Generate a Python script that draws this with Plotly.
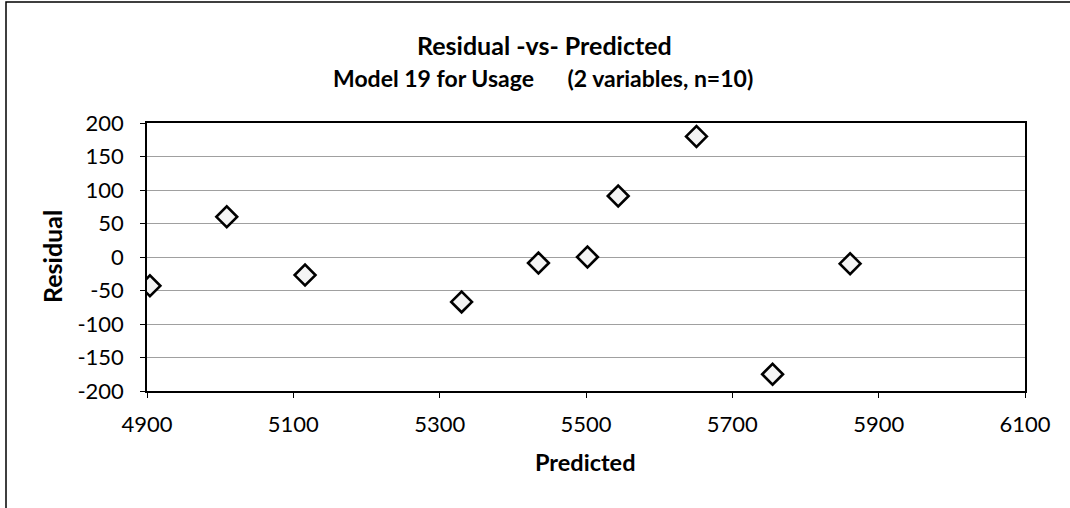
import plotly.graph_objects as go

# Data
predicted = [4904, 5009, 5116, 5330, 5435, 5502, 5544, 5651, 5755, 5861]
residual = [-43, 60, -27, -67, -9, 0, 91, 180, -175, -10]

x_ticks = [4900, 5100, 5300, 5500, 5700, 5900, 6100]
y_ticks = [-200, -150, -100, -50, 0, 50, 100, 150, 200]
y_tick_labels = [str(v) for v in y_ticks]

title_text = "Residual -vs- Predicted"
subtitle_text = "Model 19 for Usage" + "&nbsp;" * 6 + "(2 variables, n=10)"
x_title = "Predicted"
y_title = "Residual"

FONT = "Lato, Carlito, Calibri, sans-serif"

W, H = 1070, 508
L, R, T, B = 147, 45, 123, 117
pw, ph = W - L - R, H - T - B


def px(xp):
    return (xp - L) / pw


def py(yp):
    return (H - B - yp) / ph


fig = go.Figure()
fig.add_trace(go.Scatter(
    x=predicted, y=residual, mode="markers",
    marker=dict(symbol="diamond", size=16, color="#f4f4f4",
                line=dict(color="black", width=2.6)),
    showlegend=False, hoverinfo="x+y",
))

fig.update_layout(
    width=W, height=H,
    margin=dict(l=L, r=R, t=T, b=B),
    paper_bgcolor="white", plot_bgcolor="white",
    font=dict(family=FONT, size=22, color="black"),
    xaxis=dict(range=[x_ticks[0], x_ticks[-1]], tickvals=x_ticks,
               showgrid=False, zeroline=False,
               showline=True, mirror=True, linecolor="black", linewidth=1.5,
               ticks="outside", ticklen=5, tickcolor="black",
               ticklabelstandoff=8, tickfont=dict(size=22)),
    yaxis=dict(range=[y_ticks[0], y_ticks[-1]], tickvals=y_ticks,
               ticktext=y_tick_labels,
               showgrid=True, gridcolor="#a0a0a0", gridwidth=1,
               zeroline=False,
               showline=True, mirror=True, linecolor="black", linewidth=1.5,
               ticks="outside", ticklen=5, tickcolor="black",
               ticklabelstandoff=12, tickfont=dict(size=22)),
    annotations=[
        dict(text="<b>" + title_text + "</b>", x=px(544), y=py(45),
             xref="paper", yref="paper", showarrow=False,
             xanchor="center", yanchor="middle", font=dict(size=25)),
        dict(text="<b>" + subtitle_text + "</b>", x=px(543), y=py(78),
             xref="paper", yref="paper", showarrow=False,
             xanchor="center", yanchor="middle", font=dict(size=23)),
        dict(text="<b>" + x_title + "</b>", x=px(585), y=py(462),
             xref="paper", yref="paper", showarrow=False,
             xanchor="center", yanchor="middle", font=dict(size=23.5)),
        dict(text="<b>" + y_title + "</b>", x=px(52), y=py(257), textangle=-90,
             xref="paper", yref="paper", showarrow=False,
             xanchor="center", yanchor="middle", font=dict(size=25)),
    ],
    shapes=[
        dict(type="rect", xref="paper", yref="paper",
             x0=px(6), x1=px(1100), y0=py(2), y1=py(540),
             line=dict(color="black", width=1.5), fillcolor="rgba(0,0,0,0)",
             layer="below"),
    ],
)

fig.write_html("out.html", config={"displayModeBar": False},
               post_script="document.body.style.margin='0';")
